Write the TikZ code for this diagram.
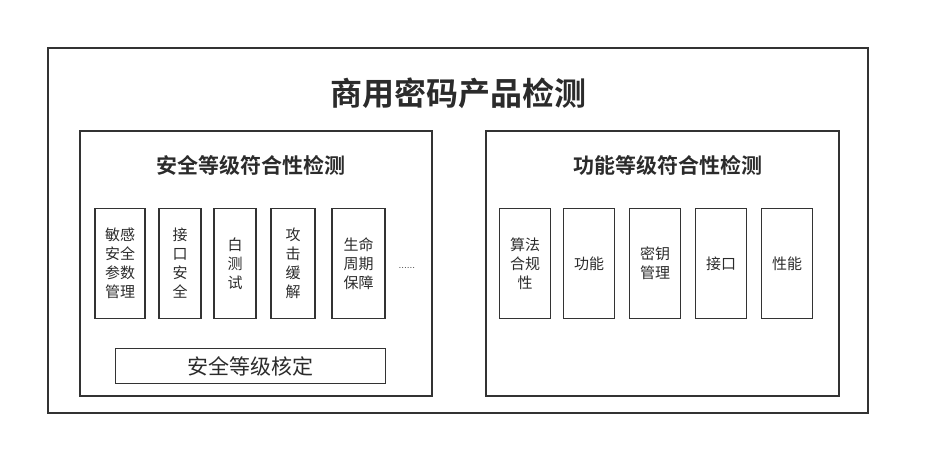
\documentclass[tikz,border=0pt]{standalone}
\usepackage{fontspec}
\newfontfamily\cjk{Noto Sans CJK SC}[BoldFont={Noto Sans CJK SC Bold}]
\definecolor{framegray}{HTML}{333333}
\definecolor{textgray}{HTML}{2B2B2B}
\usetikzlibrary{positioning}

\begin{document}
\begin{tikzpicture}[x=1pt, y=-1pt,
      frame/.style={draw=framegray, line width=1.5pt},
      item/.style={draw=framegray, line width=1.5pt, minimum height=110pt,
                   inner sep=0pt, outer sep=0pt, align=center, text=textgray,
                   font=\cjk\fontsize{15pt}{19pt}\selectfont},
      hdr/.style={text=textgray, font=\cjk\bfseries\fontsize{21pt}{25pt}\selectfont},
      ttl/.style={text=textgray, font=\cjk\bfseries\fontsize{32pt}{36pt}\selectfont}
  ]
    \useasboundingbox (0,0) rectangle (931,476);
    % outer frame and panels
    \draw[frame] (48,48) rectangle (868,413);
    \draw[frame] (80,131) rectangle (432,396);
    \draw[frame] (486,131) rectangle (839,396);
    \node[ttl] (title) at (458,93) {商用密码产品检测};
    \node[hdr] (safe) at (251,165) {安全等级符合性检测};
    \node[hdr] (func) at (668,165) {功能等级符合性检测};

    % left panel items
    \node[item, minimum width=50pt, anchor=north west] (s1) at (95,208.5) {敏感\\安全\\参数\\管理};
    \node[item, minimum width=42pt, right=14pt of s1] (s2) {接\\口\\安\\全};
    \node[item, minimum width=42pt, right=13pt of s2] (s3) {白\\测\\试};
    \node[item, minimum width=44pt, right=15pt of s3] (s4) {攻\\击\\缓\\解};
    \node[item, minimum width=53pt, right=17pt of s4] (s5) {生命\\周期\\保障};
    \node[font=\fontsize{10pt}{10pt}\selectfont, text=textgray, right=10pt of s5, yshift=-4pt] (more) {......};
    \node[draw=framegray, line width=1.5pt, minimum width=270pt, minimum height=35pt,
          inner sep=0pt, outer sep=0pt, text=textgray, font=\cjk\fontsize{21pt}{25pt}\selectfont,
          anchor=north west] (grade) at (115.5,348.5) {安全等级核定};

    % right panel items
    \node[item, minimum width=51pt, anchor=north west] (f1) at (499.5,208.5) {算法\\合规\\性};
    \node[item, minimum width=51pt, right=13pt of f1] (f2) {功能};
    \node[item, minimum width=51pt, right=15pt of f2] (f3) {密钥\\管理};
    \node[item, minimum width=51pt, right=15pt of f3] (f4) {接口};
    \node[item, minimum width=51pt, right=15pt of f4] (f5) {性能};
  \end{tikzpicture}
\end{document}
